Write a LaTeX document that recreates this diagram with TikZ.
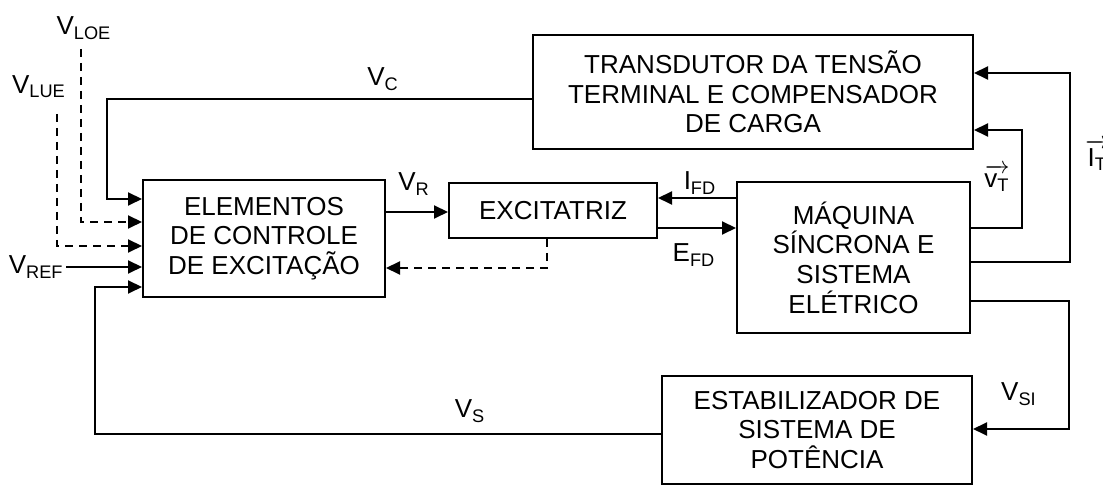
\documentclass[tikz,border=0pt]{standalone}
\usepackage{amsmath}
\usepackage{fontspec}
\setmainfont{Liberation Sans}
\usetikzlibrary{arrows.meta}
\newcommand{\sig}[2]{$\text{#1}_{\text{#2}}$}
\newcommand{\vsig}[2]{$\overrightarrow{\text{#1}_{\text{#2}}}$}

\begin{document}
\begin{tikzpicture}[x=0.5pt,y=-0.5pt,
  bloco/.style={draw,line width=1pt,inner sep=0pt,align=center,font=\fontsize{13}{14.8}\selectfont},
  sinal/.style={font=\fontsize{13}{14.8}\selectfont,inner sep=1pt},
  seta/.style={line width=1pt,-{Triangle[length=7pt,width=6.5pt]}},
  tracejada/.style={seta,dash pattern=on 4pt off 3pt}]
  \useasboundingbox (0,0) rectangle (1103,485);

  \node[bloco,minimum width=121pt,minimum height=58.5pt] (ctrl) at (264,238.5) {ELEMENTOS\\DE CONTROLE\\DE EXCITAÇÃO};
  \node[bloco,minimum width=104pt,minimum height=27.5pt] (exc) at (553,210.5) {EXCITATRIZ};
  \node[bloco,minimum width=220pt,minimum height=57pt] (trans) at (753,92) {TRANSDUTOR DA TENSÃO\\TERMINAL E COMPENSADOR\\DE CARGA};
  \node[bloco,minimum width=116.5pt,minimum height=75.5pt] (maq) at (853.5,257.5) {MÁQUINA\\SÍNCRONA E\\SISTEMA\\ELÉTRICO};
  \node[bloco,minimum width=155pt,minimum height=54pt] (pss) at (817,430) {ESTABILIZADOR DE\\SISTEMA DE\\POTÊNCIA};

  \node[sinal] (vc) at (383,79) {\sig{V}{C}};
  \node[sinal] (vloe) at (84,28) {\sig{V}{LOE}};
  \node[sinal] (vlue) at (39,87) {\sig{V}{LUE}};
  \node[sinal,anchor=east] (vref) at (66,267) {\sig{V}{REF}};
  \node[sinal] (vs) at (470,411) {\sig{V}{S}};
  \node[sinal] (vr) at (414,184) {\sig{V}{R}};
  \node[sinal] (ifd) at (700,183) {\sig{I}{FD}};
  \node[sinal] (efd) at (694,255) {\sig{E}{FD}};
  \node[sinal] (vt) at (997,178) {\vsig{v}{T}};
  \node[sinal,anchor=west] (it) at (1083,155) {\vsig{I}{T}};
  \node[sinal] (vsi) at (1019,394) {\sig{V}{SI}};
  \coordinate (loe) at (81,49);
  \coordinate (lue) at (57,114);

  \draw[seta] (trans.west |- 0,99) -| (107,199) -- (ctrl.west |- 0,199);
  \draw[tracejada] (loe) |- (ctrl.west |- 0,222);
  \draw[tracejada] (lue) |- (ctrl.west |- 0,246);
  \draw[seta] (vref.east) -- (ctrl.west |- vref.east);
  \draw[seta] (pss.west |- 0,434) -| (95,287) -- (ctrl.west |- 0,287);
  \draw[seta] (ctrl.east |- 0,212) -- (exc.west |- 0,212);
  \draw[tracejada] (exc.south -| 547,0) |- (ctrl.east |- 0,268);
  \draw[seta] (maq.west |- 0,198) -- (exc.east |- 0,198);
  \draw[seta] (exc.east |- 0,228) -- (maq.west |- 0,228);
  \draw[seta] (maq.east |- 0,228) -| (1022,130) -- (trans.east |- 0,130);
  \draw[seta] (maq.east |- 0,262) -| (1070,73) -- (trans.east |- 0,73);
  \draw[seta] (maq.east |- 0,301) -| (1069,429) -- (pss.east |- 0,429);
\end{tikzpicture}
\end{document}
